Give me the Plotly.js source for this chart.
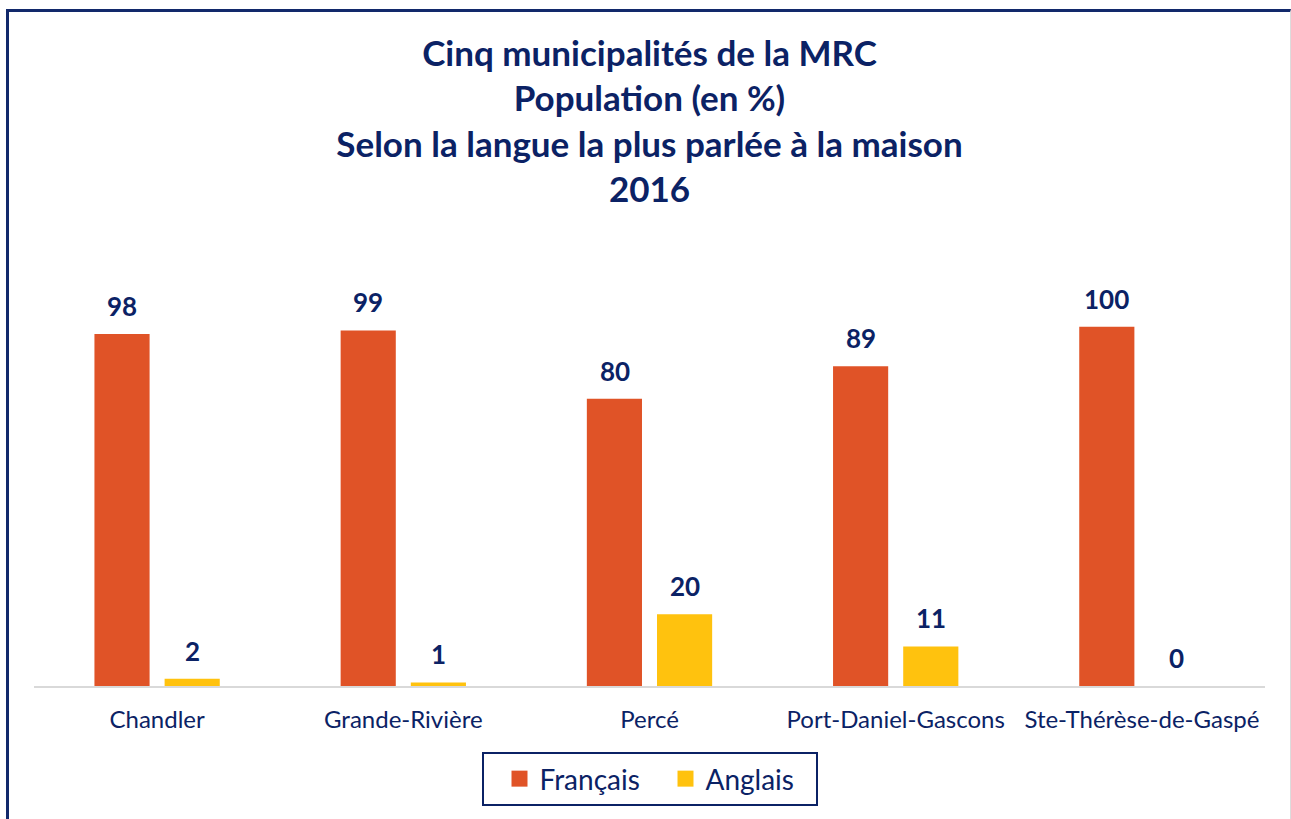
<!DOCTYPE html>
<html>
<head>
<meta charset="utf-8">
<script src="https://cdn.plot.ly/plotly-3.0.1.min.js"></script>
<style>
  html, body { margin: 0; padding: 0; background: #ffffff; overflow: hidden; }
  #chart { position: absolute; left: 0; top: 0; width: 1291px; height: 819px; }
  #frame { position: absolute; left: 6px; top: 9px; width: 1285px; height: 900px;
           box-sizing: border-box; border-top: 3px solid #12296b; border-left: 3px solid #12296b;
           border-right: 1px solid #dcdcdc; pointer-events: none; }
</style>
</head>
<body>
<div id="chart"></div>
<div id="frame"></div>
<script>
const categories = ["Chandler", "Grande-Rivière", "Percé", "Port-Daniel-Gascons", "Ste-Thérèse-de-Gaspé"];
const francais = [98, 99, 80, 89, 100];
const anglais = [2, 1, 20, 11, 0];
const seriesNames = ["Français", "Anglais"];
const titleLines = ["Cinq municipalités de la MRC", "Population (en %)", "Selon la langue la plus parlée à la maison", "2016"];

const NAVY = "#0b2265";
const ORANGE = "#e05327";
const GOLD = "#ffc20e";
const FONT = "Lato, 'Open Sans', sans-serif";

const traces = [
  { type: "bar", x: categories, y: francais, name: seriesNames[0], marker: { color: ORANGE },
    showlegend: false, hoverinfo: "x+y" },
  { type: "bar", x: categories, y: anglais, name: seriesNames[1], marker: { color: GOLD },
    showlegend: false, hoverinfo: "x+y" },
  { type: "scatter", mode: "markers", x: [null], y: [null], name: seriesNames[0],
    marker: { symbol: "square", size: 16, color: ORANGE }, hoverinfo: "skip" },
  { type: "scatter", mode: "markers", x: [null], y: [null], name: seriesNames[1],
    marker: { symbol: "square", size: 16, color: GOLD }, hoverinfo: "skip" }
];

const annotations = [];
[[francais, -35], [anglais, 35]].forEach(function (pair) {
  const vals = pair[0], shift = pair[1];
  categories.forEach(function (c, i) {
    annotations.push({
      x: c, y: vals[i], xref: "x", yref: "y", text: String(vals[i]),
      showarrow: false, xanchor: "center", yanchor: "middle",
      xshift: shift, yshift: 28,
      font: { family: FONT, size: 26, color: NAVY, weight: "bold" }
    });
  });
});

const layout = {
  width: 1291, height: 819,
  margin: { l: 34, r: 26, t: 255, b: 133 },
  paper_bgcolor: "rgba(0,0,0,0)",
  plot_bgcolor: "rgba(0,0,0,0)",
  barmode: "group",
  bargap: 0.43,
  bargroupgap: 0.214,
  title: {
    text: titleLines.map(function (t) { return "<b>" + t + "</b>"; }).join("<br>"),
    font: { family: FONT, size: 35, color: NAVY },
    x: 0.5, xref: "paper", xanchor: "center",
    y: 0.92, yref: "container", yanchor: "top"
  },
  xaxis: {
    type: "category",
    showline: true, linecolor: "#d9d9d9", linewidth: 2,
    ticks: "", showgrid: false, zeroline: false,
    tickfont: { family: FONT, size: 24, color: NAVY },
    ticklabelstandoff: 11
  },
  yaxis: {
    range: [0, 120], visible: false, showgrid: false, zeroline: false, fixedrange: true
  },
  showlegend: true,
  legend: {
    orientation: "h", x: 0.5, xanchor: "center", y: -0.153, yanchor: "top",
    bordercolor: NAVY, borderwidth: 2, bgcolor: "#ffffff",
    font: { family: FONT, size: 28, color: NAVY },
    itemwidth: 30, traceorder: "normal", entrywidth: 105, indentation: 16
  },
  annotations: annotations
};

Plotly.newPlot("chart", traces, layout, { displayModeBar: false, staticPlot: true });
</script>
</body>
</html>
